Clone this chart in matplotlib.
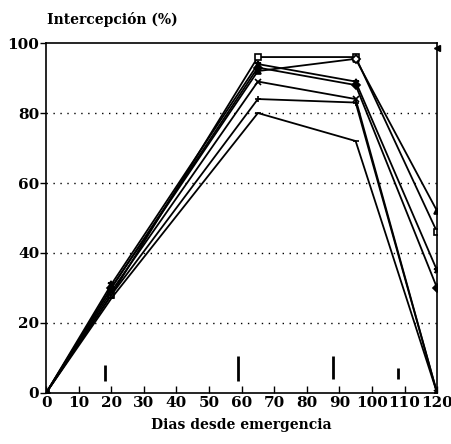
import matplotlib
matplotlib.use("Agg")
import matplotlib.pyplot as plt

days = [0, 20, 65, 95, 120]
s_square = [0, 28, 96, 96, 46]
s_triangle = [0, 30, 92, 95.5, 52]
s_star = [0, 31, 94, 89, 35]
s_diamond = [0, 30, 93, 88, 30]
s_x = [0, 29, 89, 84, 0]
s_plus = [0, 28, 84, 83, 0]
s_dash = [0, 27, 80, 72, 0]

# phenology marks (day, bottom, top)
mark_days = [18, 59, 88, 108]
mark_low = [3.5, 3.5, 4.0, 4.0]
mark_high = [8, 10.5, 10.5, 7]

xticks = list(range(0, 121, 10))
yticks = [0, 20, 40, 60, 80, 100]

plt.rcParams['font.family'] = ['DejaVu Serif']
plt.rcParams['font.weight'] = 'bold'

fig = plt.figure(figsize=(4.52, 4.44), dpi=100)
ax = fig.add_axes([0.102, 0.115, 0.865, 0.788])

series = [
    (s_square, 's', 'none'),
    (s_triangle, '^', 'k'),
    (s_star, '*', 'k'),
    (s_diamond, 'D', 'k'),
    (s_x, 'x', 'k'),
    (s_plus, '+', 'k'),
    (s_dash, '_', 'k'),
]
for vals, m, fc in series:
    ax.plot(days, vals, color='k', lw=1.3, marker=m, ms=4.5,
            markerfacecolor=fc if fc != 'none' else 'white', markeredgecolor='k', mew=1.2)

# open diamond at day 95 on triangle series
ax.plot([95], [95.5], marker='D', ms=4.5, mfc='white', mec='k', mew=1.3, ls='none')
ax.plot([120], [98.5], marker='<', ms=5, color='k', ls='none', clip_on=False)

ax.vlines(mark_days, mark_low, mark_high, color='k', lw=2)

ax.set_xlim(0, 120)
ax.set_ylim(0, 100)
ax.set_xticks(xticks)
ax.set_yticks(yticks)
ax.tick_params(axis='x', direction='in', length=5, width=1, labelsize=11, pad=2)
ax.tick_params(axis='y', direction='out', length=4, width=1, labelsize=11, pad=1)
for lbl in ax.get_xticklabels() + ax.get_yticklabels():
    lbl.set_fontweight('bold')
for sp in ax.spines.values():
    sp.set_linewidth(1.2)
for y in [20, 40, 60, 80]:
    ax.axhline(y, color='k', lw=1, ls=(0, (1, 4)))

fig.text(0.105, 0.955, 'Intercepción (%)', fontsize=10, fontweight='bold', ha='left', va='center')
ax.set_xlabel('Dias desde emergencia', fontsize=10, fontweight='bold', labelpad=6)

fig.savefig('out.png', dpi=100)
